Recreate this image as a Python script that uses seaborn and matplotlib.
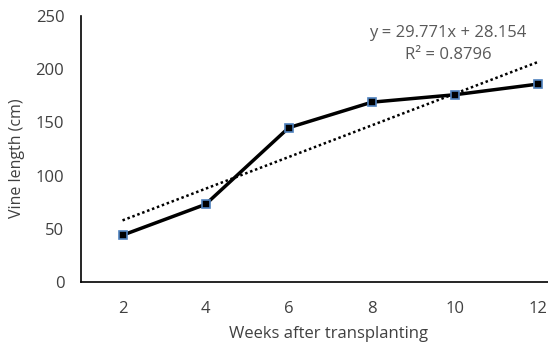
import numpy as np
import pandas as pd
import matplotlib.pyplot as plt
import seaborn as sns

weeks = ["2", "4", "6", "8", "10", "12"]
vine_length = [44, 73, 145, 169, 176, 186]
slope = 29.771
intercept = 28.154
r2 = 0.8796

sns.set_theme(style="white")
plt.rcParams["font.family"] = ["Open Sans", "DejaVu Sans"]

df = pd.DataFrame({"pos": np.arange(1, len(weeks) + 1), "length": vine_length})
df["trend"] = slope * df["pos"] + intercept

fig = plt.figure(figsize=(5.48, 3.45), dpi=100)
# plot area runs past the right edge, as in the cropped original
ax = fig.add_axes([81 / 548, 1 - 282 / 345, (579.5 - 81) / 548, (282 - 16) / 345])

sns.lineplot(data=df, x="pos", y="trend", ax=ax, color="black", lw=1.8,
             linestyle=(0, (1, 1.1)))
sns.lineplot(data=df, x="pos", y="length", ax=ax, color="black", lw=2.5,
             marker="s", markersize=6, markerfacecolor="black",
             markeredgecolor="#4f81bd", markeredgewidth=1.2)

ax.set_xlim(0.5, 6.5)
ax.set_ylim(0, 250)
ax.set_xticks(df["pos"])
ax.set_xticklabels(weeks)
ax.set_yticks(range(0, 251, 50))
ax.tick_params(axis="both", colors="#404040", labelsize=12, length=0)
ax.tick_params(axis="y", pad=12)
ax.tick_params(axis="x", pad=14)
for s in ["top", "right"]:
    ax.spines[s].set_visible(False)
for s in ["left", "bottom"]:
    ax.spines[s].set_color("black")
    ax.spines[s].set_linewidth(1.2)
ax.set_xlabel("")
ax.set_ylabel("")

fig.text(329 / 548, 1 - 334 / 345, "Weeks after transplanting", ha="center",
         va="center", fontsize=12, color="#404040")
fig.text(17 / 548, 1 - 158 / 345, "Vine length (cm)", rotation=90, ha="center",
         va="center", fontsize=11.5, color="#404040")

fig.text(448 / 548, 1 - 33 / 345, f"y = {slope}x + {intercept}", ha="center",
         va="center", fontsize=12, color="#595959")
fig.text(448 / 548, 1 - 55 / 345, f"R² = {r2}", ha="center",
         va="center", fontsize=12, color="#595959")

fig.savefig("out.png", dpi=100)
